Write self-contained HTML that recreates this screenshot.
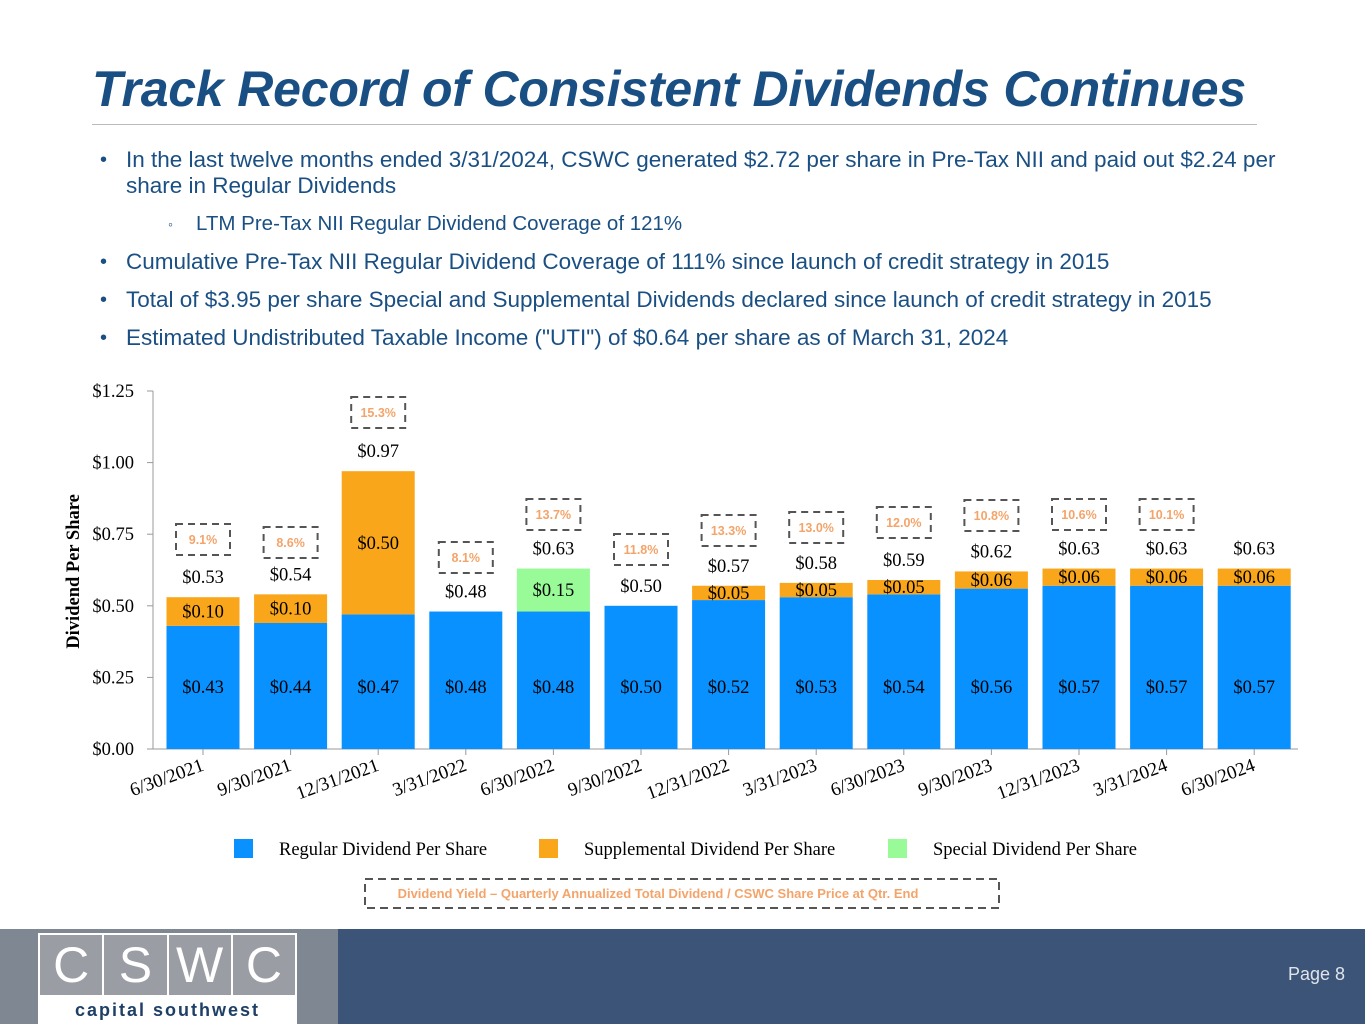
<!DOCTYPE html>
<html><head><meta charset="utf-8"><style>
body{margin:0;width:1365px;height:1024px;position:relative;background:#fff;font-family:"Liberation Sans",sans-serif;overflow:hidden}
.t{position:absolute}
h1{position:absolute;left:92px;top:60px;margin:0;font-size:50px;font-style:italic;font-weight:bold;color:#1a4f84;letter-spacing:-0.2px;white-space:nowrap}
.b{position:absolute;left:100px;font-size:22.5px;color:#1a4f84;line-height:26px;white-space:nowrap}
.b span{position:absolute;left:0;font-size:20px}
.b div{margin-left:26px}
</style></head><body>
<h1>Track Record of Consistent Dividends Continues</h1>
<div class="t" style="left:92px;top:124px;width:1165px;height:1px;background:#bbb"></div>
<div class="b" style="top:147px"><span>•</span><div>In the last twelve months ended 3/31/2024, CSWC generated $2.72 per share in Pre-Tax NII and paid out $2.24 per<br>share in Regular Dividends</div></div>
<div class="b" style="top:211px;left:168px;font-size:20.5px"><span style="font-size:14px">◦</span><div style="margin-left:28px">LTM Pre-Tax NII Regular Dividend Coverage of 121%</div></div>
<div class="b" style="top:249px"><span>•</span><div>Cumulative Pre-Tax NII Regular Dividend Coverage of 111% since launch of credit strategy in 2015</div></div>
<div class="b" style="top:287px"><span>•</span><div>Total of $3.95 per share Special and Supplemental Dividends declared since launch of credit strategy in 2015</div></div>
<div class="b" style="top:325px"><span>•</span><div>Estimated Undistributed Taxable Income ("UTI") of $0.64 per share as of March 31, 2024</div></div>

<svg id="chart" style="position:absolute;left:0;top:370px" width="1365" height="560" font-family="'Liberation Serif',serif"></svg>

<div class="t" style="left:0;top:929px;width:338px;height:95px;background:#7f8793"></div>
<div class="t" style="left:338px;top:929px;width:1027px;height:95px;background:#3b5478"></div>
<div class="t" style="left:38px;top:933px;width:259px;height:91px;background:#fff">
  <div style="display:flex;gap:2px;padding:2px">
    <div style="flex:1;height:60px;background:#9a9ea4;color:#fff;font-size:50px;text-align:center;line-height:60px">C</div>
    <div style="flex:1;height:60px;background:#9a9ea4;color:#fff;font-size:50px;text-align:center;line-height:60px">S</div>
    <div style="flex:1;height:60px;background:#9a9ea4;color:#fff;font-size:50px;text-align:center;line-height:60px">W</div>
    <div style="flex:1;height:60px;background:#9a9ea4;color:#fff;font-size:50px;text-align:center;line-height:60px">C</div>
  </div>
  <div style="text-align:center;color:#1e3f66;font-size:18px;letter-spacing:2px;font-weight:bold;margin-top:3px">capital southwest</div>
</div>
<div class="t" style="left:1288px;top:964px;color:#e0e4ea;font-size:18px">Page 8</div>

<script>
const categories=["6/30/2021","9/30/2021","12/31/2021","3/31/2022","6/30/2022","9/30/2022","12/31/2022","3/31/2023","6/30/2023","9/30/2023","12/31/2023","3/31/2024","6/30/2024"];
const regular=[0.43,0.44,0.47,0.48,0.48,0.50,0.52,0.53,0.54,0.56,0.57,0.57,0.57];
const supplemental=[0.10,0.10,0.50,0,0,0,0.05,0.05,0.05,0.06,0.06,0.06,0.06];
const special=[0,0,0,0,0.15,0,0,0,0,0,0,0,0];
const totals=["$0.53","$0.54","$0.97","$0.48","$0.63","$0.50","$0.57","$0.58","$0.59","$0.62","$0.63","$0.63","$0.63"];
const yields=["9.1%","8.6%","15.3%","8.1%","13.7%","11.8%","13.3%","13.0%","12.0%","10.8%","10.6%","10.1%",""];
const yieldBoxTop=[524,527,397,542,499,534,515,512,507,500,499,499,0];
const yTicks=[0,0.25,0.5,0.75,1.0,1.25];
const OY=370;
const svg=document.getElementById('chart');const NS='http://www.w3.org/2000/svg';
function y(v){return 749-OY-v*286.4;}
function x(i){return 203+i*87.6;}
function el(t,a,txt){const e=document.createElementNS(NS,t);for(const k in a)e.setAttribute(k,a[k]);if(txt!==undefined)e.textContent=txt;svg.appendChild(e);return e;}
function f(v){return '$'+v.toFixed(2);}
let ax=el('line',{x1:153,x2:153,y1:y(1.25),y2:y(0),stroke:'#999'});

let bx=el('line',{x1:153,x2:1298,y1:y(0),y2:y(0),stroke:'#999'});

yTicks.forEach(v=>{
  let l=el('line',{x1:147,x2:153,y1:y(v),y2:y(v),stroke:'#999'});
  
  let t=el('text',{x:134,y:y(v)+6,'text-anchor':'end','font-size':18.5},f(v));
  
});
let yt=el('text',{transform:`translate(79,${y(0.62)}) rotate(-90)`,'text-anchor':'middle','font-size':18.5,'font-weight':'bold'},'Dividend Per Share');

categories.forEach((c,i)=>{
  const cx=x(i),w=73,x0=cx-w/2;
  let tk=el('line',{x1:cx,x2:cx,y1:y(0),y2:y(0)+6,stroke:'#999'});
  
  let r=el('rect',{x:x0,y:y(regular[i]),width:w,height:y(0)-y(regular[i]),fill:'#0991ff'});
  
  let top=regular[i];
  if(supplemental[i]>0){
    let s=el('rect',{x:x0,y:y(top+supplemental[i]),width:w,height:y(top)-y(top+supplemental[i]),fill:'#f9a61a'});
    
    let st=el('text',{x:cx,y:(y(top)+y(top+supplemental[i]))/2+6,'text-anchor':'middle','font-size':18.5},f(supplemental[i]));
    
    top+=supplemental[i];
  }
  if(special[i]>0){
    let s=el('rect',{x:x0,y:y(top+special[i]),width:w,height:y(top)-y(top+special[i]),fill:'#98fb98'});
    
    let st=el('text',{x:cx,y:(y(top)+y(top+special[i]))/2+6,'text-anchor':'middle','font-size':18.5},f(special[i]));
    
    top+=special[i];
  }
  let rl=el('text',{x:cx,y:y(0)-56,'text-anchor':'middle','font-size':18.5},f(regular[i]));
  
  let tl=el('text',{x:cx,y:y(top)-14,'text-anchor':'middle','font-size':18.5},totals[i]);
  
  let xl=el('text',{transform:`translate(${cx+2},${y(0)+21}) rotate(-20)`,'text-anchor':'end','font-size':19},c);
  
  if(yields[i]){
    const by=yieldBoxTop[i]-OY;
    let b=el('rect',{x:cx-27,y:by,width:54,height:31,fill:'none',stroke:'#555','stroke-width':2,'stroke-dasharray':'7,5'});
    
    let yl=el('text',{x:cx,y:by+20,'text-anchor':'middle','font-size':12.5,'font-weight':'bold',fill:'#f4a46a','font-family':'Liberation Sans,sans-serif'},yields[i]);
    
  }
});
[[234,'#0991ff','Regular Dividend Per Share'],[539,'#f9a61a','Supplemental Dividend Per Share'],[888,'#98fb98','Special Dividend Per Share']].forEach(l=>{
  let r=el('rect',{x:l[0],y:849-OY-10,width:19,height:19,fill:l[1]});
  
  let t=el('text',{x:l[0]+45,y:849-OY+6,'font-size':18.5},l[2]);
  
});
let lb=el('rect',{x:365,y:879-OY,width:634,height:29,fill:'none',stroke:'#555','stroke-width':2,'stroke-dasharray':'8,5'});

let lt=el('text',{x:658,y:898-OY,'text-anchor':'middle','font-size':13,'font-weight':'bold',fill:'#f4a46a','font-family':'Liberation Sans,sans-serif'},'Dividend Yield – Quarterly Annualized Total Dividend / CSWC Share Price at Qtr. End');

</script>
</body></html>
